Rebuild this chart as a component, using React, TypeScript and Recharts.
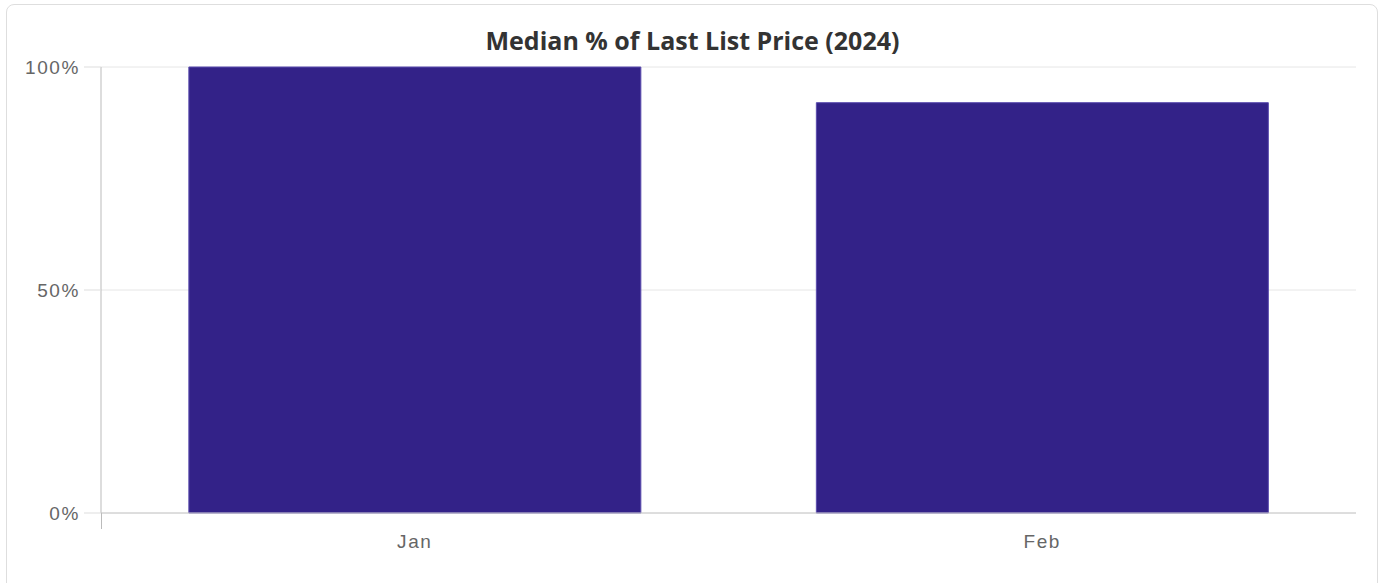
import { Bar, BarChart, CartesianGrid, XAxis, YAxis } from "recharts";

const months = ["Jan", "Feb"];
const medianPct = [100, 92];
const yTicks = [0, 50, 100];

const data = months.map((m, i) => ({ mes: m, pct: medianPct[i] }));

const W = 1386;
const H = 583;

const tickStyle = {
  fill: "#666",
  fontSize: 19,
  fontFamily: "'Liberation Sans', Arial, sans-serif",
  letterSpacing: 1.6,
};

export default function App() {
  return (
    <div
      style={{
        position: "fixed",
        left: 0,
        top: 0,
        width: W,
        height: H,
        background: "#fff",
        overflow: "hidden",
      }}
    >
      {/* card */}
      <div
        style={{
          position: "absolute",
          left: 6,
          top: 4,
          width: 1372,
          height: 590,
          border: "1px solid #dedede",
          borderRadius: 8,
          boxSizing: "border-box",
        }}
      />
      <div
        style={{
          position: "absolute",
          left: 6,
          top: 24,
          width: 1373,
          textAlign: "center",
          fontFamily: "'Open Sans', sans-serif",
          fontWeight: 700,
          fontSize: 25,
          color: "#333",
          lineHeight: "32px",
        }}
      >
        Median % of Last List Price (2024)
      </div>
      <div style={{ position: "absolute", left: 0, top: 0 }}>
        <BarChart
          width={W}
          height={H}
          data={data}
          margin={{ top: 67, right: 30, bottom: 40, left: 21 }}
          barCategoryGap="14%"
        >
          <CartesianGrid vertical={false} stroke="#e6e6e6" />
          <XAxis
            dataKey="mes"
            height={30}
            tick={tickStyle}
            tickLine={false}
            tickMargin={16}
            axisLine={{ stroke: "#c8c8c8" }}
          />
          <YAxis
            width={80}
            domain={[0, 100]}
            ticks={yTicks}
            tickFormatter={(v) => `${v}%`}
            tick={tickStyle}
            tickSize={17}
            tickMargin={4}
            tickLine={{ stroke: "#ddd" }}
            axisLine={{ stroke: "#bbb" }}
          />
          <Bar
            dataKey="pct"
            fill="#332288"
            stroke="#5a4cae"
            strokeWidth={1}
            isAnimationActive={false}
          />
        </BarChart>
      </div>
      {/* y axis line continues below the baseline */}
      <div
        style={{
          position: "absolute",
          left: 101,
          top: 513,
          width: 1,
          height: 16,
          background: "#bbb",
        }}
      />
    </div>
  );
}
